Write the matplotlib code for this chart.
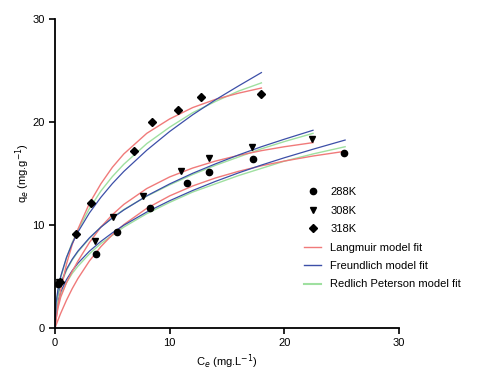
from matplotlib import pyplot as plt

import numpy as np

plt.rcParams['font.family'] = ['Liberation Sans', 'DejaVu Sans']

ce_288 = [0.3, 3.6, 5.4, 8.3, 11.5, 13.4, 17.3, 25.2]
qe_288 = [4.3, 7.2, 9.35, 11.7, 14.1, 15.1, 16.4, 17.0]
ce_308 = [0.35, 3.5, 5.1, 7.7, 11.0, 13.4, 17.2, 22.4]
qe_308 = [4.5, 8.4, 10.8, 12.85, 15.2, 16.5, 17.6, 18.4]
ce_318 = [0.4, 1.8, 3.1, 6.9, 8.5, 10.7, 12.7, 18.0]
qe_318 = [4.5, 9.15, 12.1, 17.2, 20.0, 21.2, 22.4, 22.7]

# Fitted curves
cfit_288 = [0, 0.1, 0.25, 0.5, 1, 1.5, 2, 3, 4, 5, 6, 8, 10, 12, 14, 16, 18, 20, 22.5, 25.3]
lang_288 = [0, 0.3, 0.74, 1.44, 2.70, 3.82, 4.81, 6.51, 7.90, 9.06, 10.04, 11.62, 12.83, 13.79, 14.57, 15.21, 15.75, 16.21, 16.70, 17.16]
freu_288 = [0, 1.79, 2.63, 3.51, 4.70, 5.57, 6.29, 7.46, 8.41, 9.24, 9.98, 11.26, 12.36, 13.35, 14.24, 15.06, 15.82, 16.53, 17.36, 18.25]
rp_288 = [0, 1.4, 2.3, 3.2, 4.4, 5.3, 6.0, 7.2, 8.2, 9.0, 9.8, 11.1, 12.2, 13.2, 14.0, 14.8, 15.5, 16.2, 16.9, 17.6]

cfit_308 = [0, 0.1, 0.25, 0.5, 1, 1.5, 2, 3, 4, 5, 6, 8, 10, 12, 14, 16, 18, 20, 22.5]
lang_308 = [0, 0.9, 1.9, 3.0, 4.4, 5.5, 6.5, 8.3, 9.8, 11.0, 12.0, 13.54, 14.67, 15.53, 16.21, 16.76, 17.22, 17.60, 18.0]
freu_308 = [0, 2.32, 3.32, 4.35, 5.70, 6.68, 7.47, 8.75, 9.79, 10.68, 11.46, 12.83, 13.99, 15.02, 15.94, 16.80, 17.60, 18.33, 19.2]
rp_308 = [0, 1.8, 3.0, 4.2, 5.6, 6.6, 7.4, 8.7, 9.8, 10.7, 11.5, 12.8, 13.9, 14.9, 15.8, 16.6, 17.4, 18.1, 18.9]

cfit_318 = [0, 0.1, 0.25, 0.5, 1, 1.5, 2, 3, 4, 5, 6, 8, 10, 12, 14, 16, 18]
lang_318 = [0, 0.9, 2.1, 3.7, 6.2, 8.1, 9.6, 12.1, 14.0, 15.6, 16.9, 18.9, 20.3, 21.4, 22.2, 22.8, 23.3]
freu_318 = [0, 2.46, 3.70, 5.03, 6.85, 8.20, 9.32, 11.17, 12.69, 14.02, 15.20, 17.26, 19.08, 20.70, 22.16, 23.50, 24.80]
rp_318 = [0, 2.0, 3.5, 4.9, 6.8, 8.3, 9.5, 11.6, 13.3, 14.7, 15.9, 17.9, 19.5, 20.9, 22.0, 23.0, 23.8]

red = '#f07a7a'
blue = '#3c4fa8'
green = '#9fe0a0'

fig = plt.figure(figsize=(4.92, 3.73), dpi=100)
ax = fig.add_axes([0.1118, 0.1206, 0.6992, 0.8284])

# Model fits
for c, l, f, r in [(cfit_288, lang_288, freu_288, rp_288),
                   (cfit_308, lang_308, freu_308, rp_308),
                   (cfit_318, lang_318, freu_318, rp_318)]:
    ax.plot(c, r, color=green, lw=1.0)
    ax.plot(c, l, color=red, lw=1.0)
    ax.plot(c, f, color=blue, lw=0.9)

# Data
h1, = ax.plot(ce_288, qe_288, 'o', color='black', ms=4.5, label='288K')
h2, = ax.plot(ce_308, qe_308, 'v', color='black', ms=4.5, label='308K')
h3, = ax.plot(ce_318, qe_318, 'D', color='black', ms=4, label='318K')

hl, = ax.plot([], [], color=red, lw=1.0, label='Langmuir model fit')
hf, = ax.plot([], [], color=blue, lw=1.0, label='Freundlich model fit')
hr, = ax.plot([], [], color=green, lw=1.5, label='Redlich Peterson model fit')

ax.set_xlim(0, 30)
ax.set_ylim(0, 30)
ax.set_xticks([0, 10, 20, 30])
ax.set_yticks([0, 10, 20, 30])
ax.spines['top'].set_visible(False)
ax.spines['right'].set_visible(False)
ax.spines['left'].set_linewidth(1.3)
ax.spines['bottom'].set_linewidth(1.3)
ax.tick_params(direction='out', length=4, width=1.2, labelsize=8)
ax.set_xlabel('C$_e$ (mg.L$^{-1}$)', fontsize=8, labelpad=3)
ax.set_ylabel('q$_e$ (mg.g$^{-1}$)', fontsize=8, labelpad=0)

ax.legend(handles=[h1, h2, h3, hl, hf, hr], loc='upper left',
          bbox_to_anchor=(0.71, 0.47), frameon=False, fontsize=8,
          handlelength=1.6, handletextpad=0.8, labelspacing=0.76,
          borderaxespad=0)

fig.savefig('out.png', dpi=100)
